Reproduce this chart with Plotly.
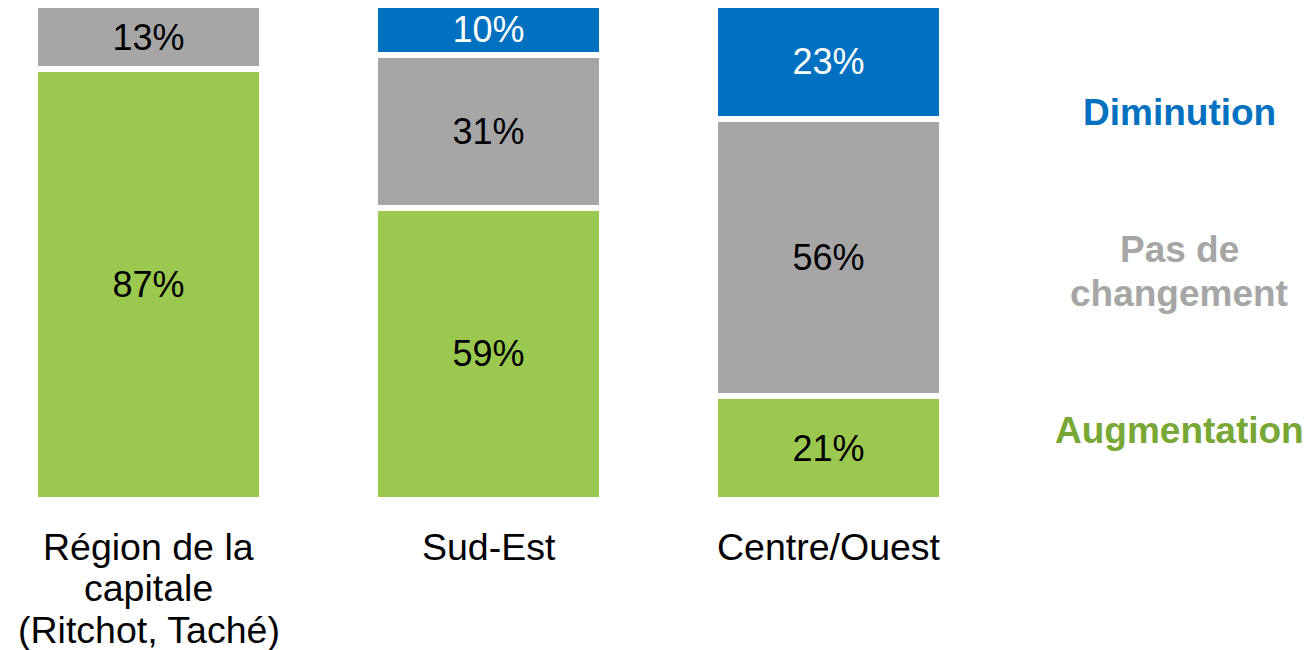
import plotly.graph_objects as go

categories = ["Région de la<br>capitale<br>(Ritchot, Taché)", "Sud-Est", "Centre/Ouest"]
augmentation = [87, 59, 21]
pas_de_changement = [13, 31, 56]
diminution = [None, 10, 23]

series = [
    ("Augmentation", augmentation, "#9BC84E", "#000000"),
    ("Pas de changement", pas_de_changement, "#A6A6A6", "#000000"),
    ("Diminution", diminution, "#0070C0", "#FFFFFF"),
]

FONT = "Liberation Sans, Arial, sans-serif"
xs = list(range(len(categories)))

fig = go.Figure()
for name, vals, color, tcolor in series:
    fig.add_trace(go.Bar(
        x=xs, y=vals, name=name,
        marker=dict(color=color, line=dict(color="white", width=6)),
        width=0.668,
        text=[f"{v}%" if v else "" for v in vals],
        textposition="inside", insidetextanchor="middle", textangle=0,
        textfont=dict(family=FONT, size=36, color=tcolor),
        showlegend=False, hoverinfo="skip",
    ))

annotations = []
# category labels, one annotation per line
line_shifts = [-47, -88, -130]
for i, cat in enumerate(categories):
    for j, line in enumerate(cat.split("<br>")):
        annotations.append(dict(
            x=xs[i], xref="x", y=0, yref="paper", yanchor="middle",
            yshift=line_shifts[j], text=line, showarrow=False,
            font=dict(family=FONT, size=37.5, color="#000000"),
        ))

# legend-like labels on the right
legend_items = [
    ("Diminution", 113, "#0070C0"),
    ("Pas de", 250, "#A6A6A6"),
    ("changement", 293, "#A6A6A6"),
    ("Augmentation", 430, "#77A734"),
]
for txt, py, col in legend_items:
    annotations.append(dict(
        x=1.179, xref="paper", y=(500 - py) / 495, yref="paper",
        yanchor="middle", xanchor="center", text=f"<b>{txt}</b>",
        showarrow=False, font=dict(family=FONT, size=37, color=col),
    ))

fig.update_layout(
    barmode="stack",
    width=1309, height=650,
    margin=dict(l=0, r=309, t=5, b=150),
    paper_bgcolor="white", plot_bgcolor="white",
    uniformtext=dict(minsize=36, mode="show"),
    xaxis=dict(range=[-148.5 / 340, -148.5 / 340 + 1000 / 340], showticklabels=False,
               showgrid=False, zeroline=False, showline=False, fixedrange=True),
    yaxis=dict(range=[0, 100], visible=False, fixedrange=True),
    annotations=annotations,
)

fig.write_html("out.html", config={"displayModeBar": False},
               post_script="document.body.style.margin='0';")
